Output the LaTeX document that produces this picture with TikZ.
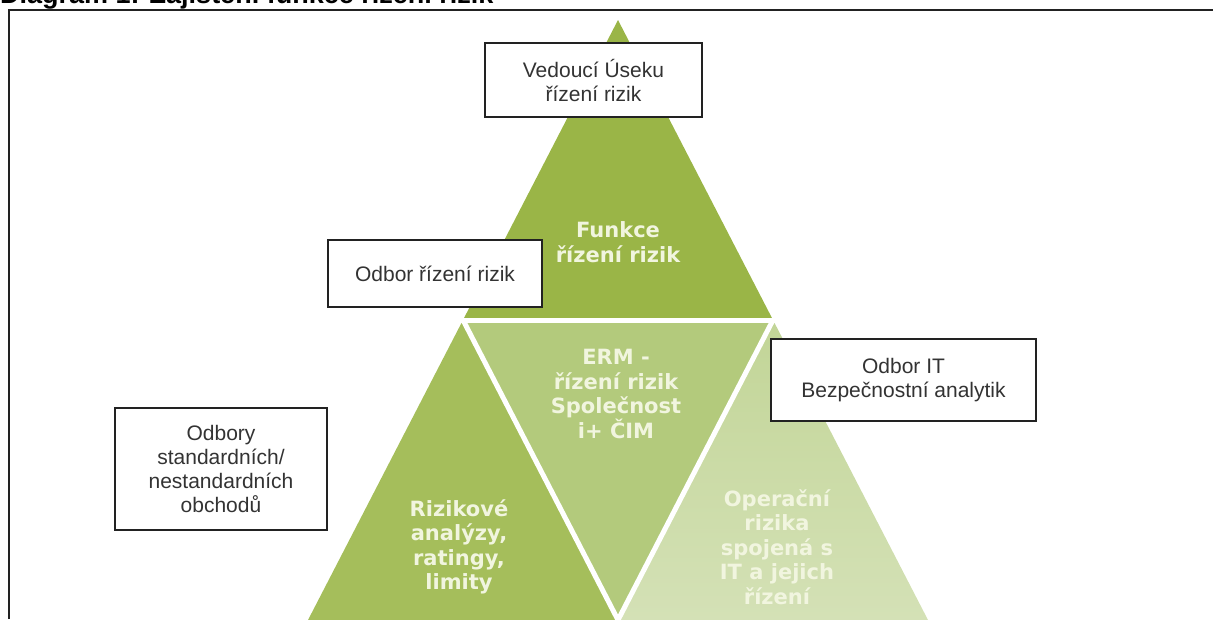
\documentclass[tikz,border=0pt]{standalone}
\usepackage{fontspec}
\setmainfont{Liberation Sans}
\newfontfamily\trifont{DejaVu Sans}
\definecolor{frameC}{HTML}{222222}
\definecolor{boxtext}{HTML}{333333}
\definecolor{gTop}{HTML}{9AB547}
\definecolor{gLeft}{HTML}{A5BE5B}
\definecolor{gMid}{HTML}{B3CA7C}
\definecolor{gRightA}{HTML}{C2D597}
\definecolor{gRightB}{HTML}{D4E1B6}
\definecolor{tritext}{HTML}{F1F5DF}
\begin{document}
\begin{tikzpicture}[x=1pt,y=-1pt,
  labelbox/.style={draw=frameC,line width=1.1pt,fill=white,inner sep=0pt,
    align=center,text=boxtext,font=\fontsize{21}{24}\selectfont},
  tritxt/.style={inner sep=0pt,align=center,text=tritext,
    font=\trifont\bfseries\fontsize{21}{24.5}\selectfont},
  sep/.style={white,line width=5pt}]
\useasboundingbox (0,0) rectangle (1213,619);
% title (cut off at the top)
\node[anchor=base west,inner sep=0pt,font=\bfseries\fontsize{27}{30}\selectfont] (title) at (0,3.5) {Diagram 1: Zajištění funkce řízení rizik};
% frame
\draw[frameC,line width=2pt] (9,619) -- (9,10) -- (1213,10);
% pyramid
\coordinate (A) at (618,20);
\coordinate (L1) at (463,320);
\coordinate (R1) at (773,320);
\coordinate (B1) at (308,620);
\coordinate (B2) at (618,620);
\coordinate (B3) at (928,620);
\fill[gTop] (A) -- (L1) -- (R1) -- cycle;
\fill[gLeft] (L1) -- (B1) -- (B2) -- cycle;
\fill[gMid] (L1) -- (R1) -- (B2) -- cycle;
\shade[top color=gRightA,bottom color=gRightB] (R1) -- (B2) -- (B3) -- cycle;
\draw[sep] (455,320) -- (781,320);
\draw[sep] (L1) -- (B2);
\draw[sep] (R1) -- (B2);
% texts in triangles
\node[tritxt] (t1) at (618,242) {Funkce\\řízení rizik};
\node[tritxt] (t2) at (616,394) {ERM -\\řízení rizik\\Společnost\\i+ ČIM};
\node[tritxt] (t3) at (459,547) {Rizikové\\analýzy,\\ratingy,\\limity};
\node[tritxt] (t4) at (777,547) {Operační\\rizika\\spojená s\\IT a jejich\\řízení};
% boxes
\node[labelbox,minimum width=217pt,minimum height=74pt] (b1) at (593.5,80) {Vedoucí Úseku\\řízení rizik};
\node[labelbox,minimum width=214pt,minimum height=67pt] (b2) at (435,273.5) {Odbor řízení rizik};
\node[labelbox,minimum width=265pt,minimum height=82pt] (b3) at (903.5,380) {Odbor IT\\Bezpečnostní analytik};
\node[labelbox,minimum width=212pt,minimum height=122pt] (b4) at (221,469) {Odbory\\standardních/\\nestandardních\\obchodů};
\end{tikzpicture}
\end{document}
